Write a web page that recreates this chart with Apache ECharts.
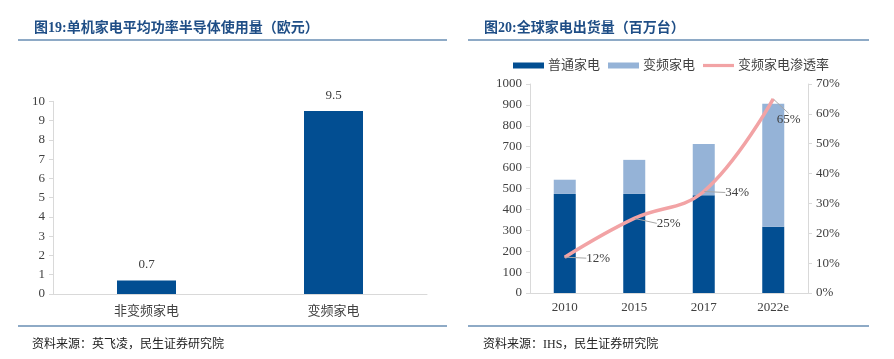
<!DOCTYPE html>
<html><head><meta charset="utf-8">
<script src="https://cdn.jsdelivr.net/npm/echarts@6/dist/echarts.min.js"></script>
<style>html,body{margin:0;padding:0;background:#fff}#c{width:894px;height:359px}</style>
</head><body><div id="c"></div>
<script>
// Left chart data
const leftCategories = ['非变频家电', '变频家电'];
const leftValues = [0.7, 9.5];
// Right chart data
const rightCategories = ['2010', '2015', '2017', '2022e'];
const normalShip = [474, 474, 468, 317];
const inverterShip = [68, 163, 245, 588];
const penetration = [12, 25, 34, 65];
const leftTitle = '图19:单机家电平均功率半导体使用量（欧元）';
const rightTitle = '图20:全球家电出货量（百万台）';
const leftSource = '资料来源：英飞凌，民生证券研究院';
const rightSource = '资料来源：IHS，民生证券研究院';

const FONT = "'Liberation Serif','Noto Sans CJK SC',serif";
const DARK = '#024e92';
const LIGHT = '#95b3d7';
const PINK = '#f2a3a5';
const TXT = '#404040';
const AX = '#d9d9d9';
const RULE = '#8eaac6';
const TITLE = '#1f4e86';

const chart = echarts.init(document.getElementById('c'), null, {renderer: 'canvas'});
const axisLbl = {color: TXT, fontFamily: FONT, fontSize: 13};
chart.setOption({
  animation: false,
  textStyle: {fontFamily: FONT},
  title: [
    {text: leftTitle, left: 29, top: 16, textStyle: {fontFamily: FONT, fontWeight: 'bold', fontSize: 14, color: TITLE}},
    {text: rightTitle, left: 479, top: 16, textStyle: {fontFamily: FONT, fontWeight: 'bold', fontSize: 14, color: TITLE}},
    {text: leftSource, left: 27, top: 334, textStyle: {fontFamily: FONT, fontWeight: 'normal', fontSize: 12, color: '#222'}},
    {text: rightSource, left: 478, top: 334, textStyle: {fontFamily: FONT, fontWeight: 'normal', fontSize: 12, color: '#222'}}
  ],
  graphic: [
    {type: 'line', shape: {x1: 18, y1: 40, x2: 447, y2: 40}, style: {stroke: RULE, lineWidth: 2}},
    {type: 'line', shape: {x1: 468, y1: 40, x2: 869, y2: 40}, style: {stroke: RULE, lineWidth: 2}},
    {type: 'line', shape: {x1: 18, y1: 326, x2: 447, y2: 326}, style: {stroke: RULE, lineWidth: 2}},
    {type: 'line', shape: {x1: 468, y1: 326, x2: 869, y2: 326}, style: {stroke: RULE, lineWidth: 2}}
  ],
  legend: {
    left: 508, top: 54, itemGap: 8, itemWidth: 31, itemHeight: 6,
    textStyle: {color: TXT, fontFamily: FONT, fontSize: 13, padding: [0, 0, 0, -1]},
    data: [
      {name: '普通家电', icon: 'rect'},
      {name: '变频家电', icon: 'rect'},
      {name: '变频家电渗透率', icon: 'path://M0,0H31V3.2H0Z', itemStyle: {color: PINK, opacity: 1}}
    ]
  },
  grid: [
    {left: 53, top: 101.3, width: 374, height: 192.7},
    {left: 530, top: 84, width: 278, height: 209}
  ],
  xAxis: [
    {gridIndex: 0, type: 'category', data: leftCategories,
     axisLine: {lineStyle: {color: AX}}, axisTick: {show: false},
     axisLabel: Object.assign({}, axisLbl, {margin: 11})},
    {gridIndex: 1, type: 'category', data: rightCategories,
     axisLine: {lineStyle: {color: AX}}, axisTick: {show: false},
     axisLabel: Object.assign({}, axisLbl, {margin: 8})}
  ],
  yAxis: [
    {gridIndex: 0, type: 'value', min: 0, max: 10, interval: 1,
     axisLine: {show: true, lineStyle: {color: AX}}, axisTick: {show: true, length: 4, lineStyle: {color: AX}},
     splitLine: {show: false}, axisLabel: Object.assign({}, axisLbl, {margin: 8})},
    {gridIndex: 1, type: 'value', min: 0, max: 1000, interval: 100,
     axisLine: {show: true, lineStyle: {color: AX}}, axisTick: {show: true, length: 4, lineStyle: {color: AX}},
     splitLine: {show: false}, axisLabel: Object.assign({}, axisLbl, {margin: 8, formatter: function (v) { return String(v); }})},
    {gridIndex: 1, type: 'value', min: 0, max: 70, interval: 10, position: 'right',
     axisLine: {show: true, lineStyle: {color: AX}}, axisTick: {show: true, length: 4, lineStyle: {color: AX}},
     splitLine: {show: false}, axisLabel: Object.assign({}, axisLbl, {margin: 8, formatter: '{value}%'})}
  ],
  series: [
    {type: 'bar', xAxisIndex: 0, yAxisIndex: 0, data: leftValues, barWidth: 59,
     itemStyle: {color: DARK},
     label: {show: true, position: 'top', distance: 9, color: TXT, fontFamily: FONT, fontSize: 13}},
    {name: '普通家电', type: 'bar', xAxisIndex: 1, yAxisIndex: 1, stack: 's', data: normalShip, barWidth: 22,
     itemStyle: {color: DARK}},
    {name: '变频家电', type: 'bar', xAxisIndex: 1, yAxisIndex: 1, stack: 's', data: inverterShip, barWidth: 22,
     itemStyle: {color: LIGHT}},
    {name: '变频家电渗透率', type: 'line', xAxisIndex: 1, yAxisIndex: 2, data: penetration,
     smooth: 0.4, symbol: 'circle', symbolSize: 1, showSymbol: true,
     lineStyle: {color: PINK, width: 3.5}, itemStyle: {color: PINK},
     label: {show: true, position: 'right', distance: 16, formatter: '{c}%', color: TXT, fontFamily: FONT, fontSize: 13},
     labelLine: {show: true, lineStyle: {color: '#a6a6a6', width: 1}},
     labelLayout: function (p) {
       if (p.dataIndex === 3) return {dx: -13, dy: 21};
       if (p.dataIndex === 1) return {dx: 6, dy: 5};
       return {dx: 5, dy: 1};
     }}
  ]
});
</script></body></html>
